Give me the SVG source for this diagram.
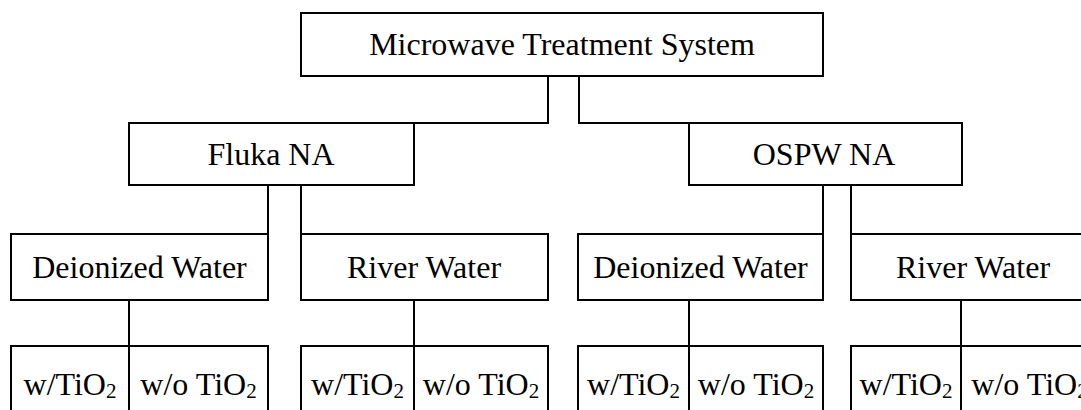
<svg xmlns="http://www.w3.org/2000/svg" width="1081" height="410" viewBox="0 0 1081 410" font-family="Liberation Serif, Times New Roman, DejaVu Serif, serif">
<style>
.b{fill:#fff;stroke:#000;stroke-width:2}
.l{fill:none;stroke:#000;stroke-width:2}
.t{font-family:'Liberation Serif','Times New Roman','DejaVu Serif',serif;font-size:32px;fill:#000;text-anchor:middle}
.s{font-size:21px}
</style>
<rect width="1081" height="410" fill="#fff"/>
<g id="connectors">
<polyline class="l" points="414,123 548,123 548,76"/>
<polyline class="l" points="579,76 579,123 689,123"/>
<line class="l" x1="268" y1="185" x2="268" y2="234"/>
<line class="l" x1="301" y1="185" x2="301" y2="234"/>
<line class="l" x1="823" y1="185" x2="823" y2="234"/>
<line class="l" x1="851" y1="185" x2="851" y2="234"/>
<line class="l" x1="129" y1="300" x2="129" y2="346"/>
<line class="l" x1="414" y1="300" x2="414" y2="346"/>
<line class="l" x1="689" y1="300" x2="689" y2="346"/>
<line class="l" x1="961" y1="300" x2="961" y2="346"/>
</g>
<g id="root">
<rect class="b" x="301" y="13" width="522" height="63"/>
<text class="t" x="562" y="55">Microwave Treatment System</text>
</g>
<g id="fluka">
<rect class="b" x="129" y="123" width="285" height="62"/>
<text class="t" x="271" y="165">Fluka NA</text>
</g>
<g id="ospw">
<rect class="b" x="689" y="123" width="273" height="62"/>
<text class="t" x="824" y="165">OSPW NA</text>
</g>
<g id="dw1">
<rect class="b" x="11" y="234" width="257" height="66"/>
<text class="t" x="139.5" y="278">Deionized Water</text>
</g>
<g id="rw1">
<rect class="b" x="301" y="234" width="247" height="66"/>
<text class="t" x="424" y="278">River Water</text>
</g>
<g id="dw2">
<rect class="b" x="578" y="234" width="245" height="66"/>
<text class="t" x="700.5" y="278">Deionized Water</text>
</g>
<g id="rw2">
<rect class="b" x="851" y="234" width="247" height="66"/>
<text class="t" x="973" y="278">River Water</text>
</g>
<g id="b1">
<rect class="b" x="11" y="346" width="118" height="80"/>
<rect class="b" x="129" y="346" width="139" height="80"/>
<text class="t" x="70" y="395">w/TiO<tspan class="s" dy="3">2</tspan></text>
<text class="t" x="198.5" y="395">w/o TiO<tspan class="s" dy="3">2</tspan></text>
</g>
<g id="b2">
<rect class="b" x="301" y="346" width="113" height="80"/>
<rect class="b" x="414" y="346" width="134" height="80"/>
<text class="t" x="357.5" y="395">w/TiO<tspan class="s" dy="3">2</tspan></text>
<text class="t" x="481" y="395">w/o TiO<tspan class="s" dy="3">2</tspan></text>
</g>
<g id="b3">
<rect class="b" x="578" y="346" width="111" height="80"/>
<rect class="b" x="689" y="346" width="134" height="80"/>
<text class="t" x="633.5" y="395">w/TiO<tspan class="s" dy="3">2</tspan></text>
<text class="t" x="756" y="395">w/o TiO<tspan class="s" dy="3">2</tspan></text>
</g>
<g id="b4">
<rect class="b" x="851" y="346" width="110" height="80"/>
<rect class="b" x="961" y="346" width="137" height="80"/>
<text class="t" x="906" y="395">w/TiO<tspan class="s" dy="3">2</tspan></text>
<text class="t" x="1029.5" y="395">w/o TiO<tspan class="s" dy="3">2</tspan></text>
</g>
</svg>
